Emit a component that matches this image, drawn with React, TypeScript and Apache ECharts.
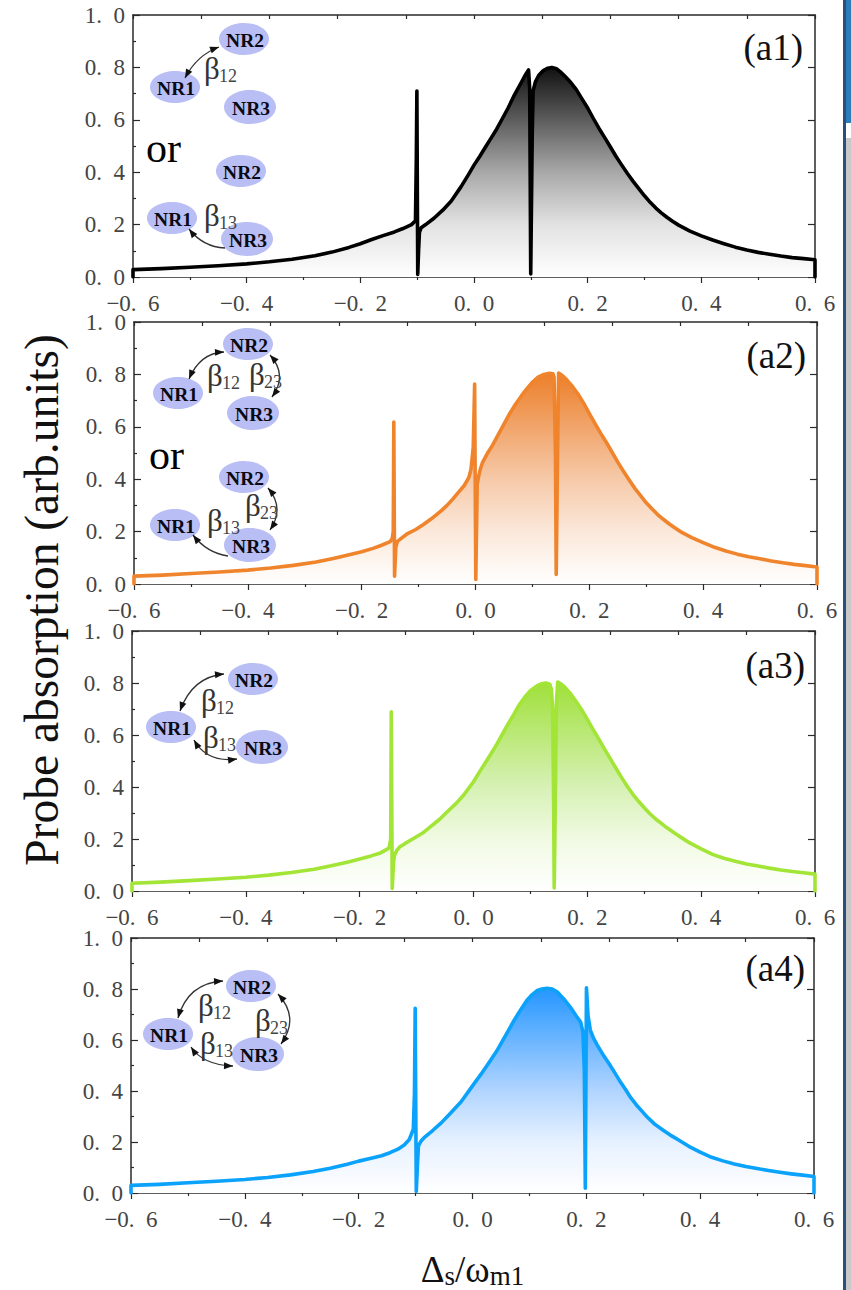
import React, { useEffect, useRef } from "react";
import * as echarts from "echarts";

const panelA1 = [[-0.6,0],[-0.6,0.028],[-0.55,0.032],[-0.5,0.037],[-0.45,0.043],[-0.4,0.05],[-0.36,0.058],[-0.32,0.068],[-0.28,0.081],[-0.25,0.095],[-0.22,0.113],[-0.2,0.127],[-0.18,0.143],[-0.16,0.158],[-0.14,0.172],[-0.125,0.185],[-0.11,0.2],[-0.103,0.215],[-0.1015,0.45],[-0.1005,0.71],[-0.0998,0.71],[-0.099,0.01],[-0.0975,0.1],[-0.096,0.17],[-0.093,0.188],[-0.085,0.2],[-0.07,0.225],[-0.055,0.255],[-0.04,0.29],[-0.023,0.344],[-0.01,0.39],[0,0.427],[0.01,0.46],[0.02,0.495],[0.03,0.53],[0.04,0.565],[0.05,0.605],[0.06,0.645],[0.07,0.69],[0.08,0.73],[0.09,0.77],[0.096,0.79],[0.098,0.72],[0.0998,0.012],[0.1005,0.012],[0.1025,0.55],[0.104,0.71],[0.108,0.745],[0.114,0.77],[0.122,0.788],[0.13,0.797],[0.137,0.8],[0.145,0.795],[0.152,0.783],[0.16,0.766],[0.17,0.743],[0.18,0.715],[0.19,0.68],[0.2,0.645],[0.21,0.605],[0.22,0.567],[0.23,0.532],[0.24,0.496],[0.25,0.46],[0.26,0.427],[0.27,0.395],[0.28,0.365],[0.29,0.337],[0.3,0.31],[0.31,0.285],[0.32,0.263],[0.33,0.244],[0.34,0.227],[0.35,0.212],[0.36,0.198],[0.38,0.175],[0.4,0.157],[0.42,0.141],[0.44,0.127],[0.46,0.114],[0.48,0.103],[0.5,0.094],[0.52,0.087],[0.54,0.08],[0.56,0.074],[0.58,0.07],[0.6,0.066],[0.6,0]];
const panelA2 = [[-0.6,0],[-0.6,0.03],[-0.55,0.034],[-0.5,0.04],[-0.45,0.046],[-0.4,0.053],[-0.36,0.061],[-0.32,0.071],[-0.28,0.084],[-0.25,0.097],[-0.22,0.113],[-0.2,0.123],[-0.18,0.136],[-0.165,0.148],[-0.15,0.162],[-0.1465,0.172],[-0.1445,0.2],[-0.1435,0.618],[-0.1428,0.618],[-0.1422,0.03],[-0.1412,0.03],[-0.14,0.14],[-0.137,0.163],[-0.13,0.175],[-0.121,0.19],[-0.105,0.208],[-0.092,0.226],[-0.08,0.245],[-0.07,0.262],[-0.06,0.28],[-0.05,0.3],[-0.04,0.324],[-0.03,0.35],[-0.02,0.375],[-0.012,0.405],[-0.008,0.436],[-0.004,0.52],[-0.0015,0.763],[-0.0005,0.763],[0.0005,0.017],[0.0015,0.017],[0.003,0.38],[0.005,0.405],[0.008,0.435],[0.012,0.462],[0.02,0.495],[0.03,0.53],[0.04,0.57],[0.05,0.61],[0.06,0.65],[0.07,0.685],[0.08,0.716],[0.09,0.745],[0.1,0.77],[0.11,0.79],[0.12,0.8],[0.13,0.804],[0.136,0.802],[0.138,0.79],[0.1405,0.5],[0.1418,0.036],[0.1428,0.036],[0.1442,0.5],[0.146,0.805],[0.152,0.797],[0.16,0.78],[0.17,0.755],[0.18,0.725],[0.19,0.69],[0.2,0.65],[0.21,0.612],[0.22,0.575],[0.23,0.54],[0.24,0.503],[0.25,0.465],[0.26,0.43],[0.27,0.397],[0.28,0.365],[0.29,0.337],[0.3,0.31],[0.31,0.287],[0.32,0.265],[0.33,0.247],[0.34,0.23],[0.35,0.215],[0.36,0.2],[0.38,0.177],[0.4,0.158],[0.42,0.14],[0.44,0.126],[0.46,0.114],[0.48,0.104],[0.5,0.096],[0.52,0.088],[0.54,0.081],[0.56,0.075],[0.58,0.07],[0.6,0.065],[0.6,0]];
const panelA3 = [[-0.6,0],[-0.6,0.03],[-0.55,0.034],[-0.5,0.04],[-0.45,0.046],[-0.4,0.053],[-0.36,0.061],[-0.32,0.071],[-0.28,0.084],[-0.25,0.097],[-0.22,0.112],[-0.2,0.123],[-0.18,0.135],[-0.165,0.145],[-0.15,0.163],[-0.148,0.169],[-0.1455,0.2],[-0.1445,0.689],[-0.1437,0.689],[-0.1428,0.01],[-0.1418,0.01],[-0.1405,0.11],[-0.139,0.137],[-0.135,0.155],[-0.13,0.169],[-0.12,0.183],[-0.107,0.2],[-0.09,0.222],[-0.077,0.245],[-0.06,0.275],[-0.047,0.303],[-0.03,0.338],[-0.018,0.367],[0,0.42],[0.012,0.463],[0.02,0.49],[0.03,0.525],[0.041,0.565],[0.05,0.6],[0.06,0.64],[0.071,0.68],[0.08,0.715],[0.09,0.745],[0.1,0.77],[0.112,0.79],[0.12,0.797],[0.127,0.8],[0.134,0.795],[0.137,0.775],[0.139,0.7],[0.1408,0.35],[0.1418,0.012],[0.1426,0.012],[0.1438,0.35],[0.1455,0.72],[0.148,0.804],[0.153,0.797],[0.16,0.785],[0.17,0.76],[0.18,0.73],[0.19,0.697],[0.2,0.66],[0.21,0.622],[0.22,0.585],[0.23,0.547],[0.24,0.51],[0.25,0.473],[0.26,0.437],[0.27,0.403],[0.28,0.372],[0.29,0.345],[0.3,0.32],[0.31,0.297],[0.32,0.277],[0.33,0.26],[0.34,0.243],[0.35,0.228],[0.36,0.213],[0.38,0.185],[0.4,0.162],[0.42,0.141],[0.44,0.126],[0.46,0.114],[0.48,0.104],[0.5,0.096],[0.52,0.088],[0.54,0.081],[0.56,0.075],[0.58,0.07],[0.6,0.065],[0.6,0]];
const panelA4 = [[-0.6,0],[-0.6,0.03],[-0.55,0.034],[-0.5,0.04],[-0.45,0.046],[-0.4,0.053],[-0.36,0.061],[-0.32,0.071],[-0.28,0.084],[-0.25,0.097],[-0.22,0.113],[-0.2,0.125],[-0.18,0.135],[-0.16,0.146],[-0.145,0.158],[-0.131,0.172],[-0.12,0.188],[-0.111,0.21],[-0.104,0.25],[-0.102,0.39],[-0.1007,0.724],[-0.0998,0.724],[-0.0988,0.006],[-0.0978,0.006],[-0.0965,0.12],[-0.095,0.185],[-0.09,0.205],[-0.085,0.217],[-0.07,0.245],[-0.055,0.275],[-0.04,0.31],[-0.02,0.358],[0,0.42],[0.015,0.466],[0.03,0.515],[0.044,0.562],[0.06,0.625],[0.073,0.677],[0.085,0.72],[0.096,0.757],[0.105,0.778],[0.114,0.794],[0.122,0.8],[0.131,0.803],[0.14,0.8],[0.149,0.788],[0.16,0.762],[0.172,0.728],[0.182,0.695],[0.19,0.67],[0.194,0.632],[0.1965,0.479],[0.1982,0.019],[0.1992,0.019],[0.2002,0.805],[0.2012,0.805],[0.203,0.696],[0.207,0.639],[0.213,0.605],[0.219,0.581],[0.23,0.54],[0.24,0.507],[0.248,0.479],[0.26,0.435],[0.27,0.402],[0.277,0.377],[0.29,0.34],[0.3,0.315],[0.306,0.3],[0.32,0.27],[0.335,0.246],[0.35,0.224],[0.365,0.204],[0.38,0.183],[0.4,0.16],[0.42,0.14],[0.44,0.126],[0.46,0.114],[0.48,0.104],[0.5,0.096],[0.52,0.088],[0.54,0.081],[0.56,0.075],[0.58,0.07],[0.6,0.065],[0.6,0]];

const panelData = [panelA1, panelA2, panelA3, panelA4];
const panelNames = ["(a1)", "(a2)", "(a3)", "(a4)"];
const lineColors = ["#000000", "#f0842c", "#a2e536", "#0ba2fb"];
const topColors = ["#111111", "#ec7f2a", "#9fe03a", "#2496ff"];
const midColors = ["#a8a8a8", "#f6c9a8", "#d6f1b4", "#b0d4ff"];
const lowColors = ["#e2e2e2", "#fbe8da", "#f0fae2", "#e6f1ff"];
const grids = [
  { left: 133, top: 15, width: 682, height: 262 },
  { left: 134, top: 322, width: 683, height: 262 },
  { left: 132, top: 631, width: 683, height: 260 },
  { left: 131, top: 938, width: 683, height: 260 },
];
const panelLabelPos = [[803, 47], [806, 355], [805, 665], [805, 968]];
const SERIF = "'Liberation Serif', serif";
const AXIS = "#2a2a2a";
const LABEL = "#444444";

const fmt = (v: number) => {
  const r = Math.abs(v) < 1e-9 ? 0 : v;
  return (r < 0 ? "\u2212" : "") + Math.abs(r).toFixed(1).replace(".", ".\u00a0\u00a0");
};

const text = (t: string, x: number, y: number, size: number, extra: any = {}) => ({
  type: "text", x, y, z: 12, silent: true,
  style: { text: t, fontSize: size, fontFamily: SERIF, fill: "#111", textAlign: "left", textVerticalAlign: "middle", ...extra },
});
const nr = (t: string, cx: number, cy: number) => [
  { type: "ellipse", z: 10, silent: true, shape: { cx, cy, rx: t === "NR3" ? 26 : 25, ry: t === "NR3" ? 17 : 16 }, style: { fill: "#b9bef5" } },
  text(t, cx + 1, cy + 1, 19.5, { fontWeight: "bold", textAlign: "center", fill: "#0a0a14" }),
];
const beta = (x: number, y: number, sub: string) => [
  text("\u03b2", x, y, 31, { fill: "#333" }),
  text(sub, x + 15, y + 8, 18, { fill: "#444" }),
];
const head = (x: number, y: number, fx: number, fy: number) => {
  const a = Math.atan2(y - fy, x - fx);
  const L = 9, W = 3.5;
  const bx = x - L * Math.cos(a), by = y - L * Math.sin(a);
  const nx = -Math.sin(a) * W, ny = Math.cos(a) * W;
  return {
    type: "polygon", z: 11, silent: true,
    shape: { points: [[x, y], [bx + nx, by + ny], [bx - nx, by - ny]] },
    style: { fill: "#111" },
  };
};
const arc = (x1: number, y1: number, x2: number, y2: number, cx: number, cy: number, both = true) => {
  const out: any[] = [
    { type: "bezierCurve", z: 11, silent: true, shape: { x1, y1, x2, y2, cpx1: cx, cpy1: cy }, style: { stroke: "#333", lineWidth: 1.3, fill: "none" } },
    head(x2, y2, cx, cy),
  ];
  if (both) out.push(head(x1, y1, cx, cy));
  return out;
};

const insetGraphics: any[] = [
  // panel a1
  ...arc(219, 47, 185, 78, 197, 55), ...nr("NR2", 244, 39), ...nr("NR1", 175, 87), ...nr("NR3", 250, 107),
  ...beta(204, 68, "12"), text("or", 146, 148, 42, { fill: "#000" }),
  ...arc(225, 248, 189, 229, 203, 247, false), ...nr("NR2", 241, 171), ...nr("NR1", 172, 218),
  ...beta(204, 215, "13"), ...nr("NR3", 247, 239),
  // panel a2
  ...arc(224, 352, 189, 379, 200, 353), ...arc(270, 355, 272, 397, 288, 375),
  ...nr("NR2", 248, 344), ...nr("NR1", 178, 393), ...nr("NR3", 253, 413),
  ...beta(207, 375, "12"), ...beta(249, 374, "23"), text("or", 149, 455, 42, { fill: "#000" }),
  ...arc(268, 488, 270, 530, 285, 508), ...arc(228, 556, 193, 535, 207, 553, false),
  ...nr("NR2", 244, 477), ...nr("NR1", 175, 525), ...beta(207, 520, "13"), ...nr("NR3", 250, 545), ...beta(245, 505, "23"),
  // panel a3
  ...arc(224, 674, 180, 711, 192, 677), ...arc(194, 740, 237, 759, 207, 763),
  ...nr("NR2", 253, 679), ...nr("NR1", 171, 727), ...nr("NR3", 262, 747),
  ...beta(201, 700, "12"), ...beta(203, 737, "13"),
  // panel a4
  ...arc(223, 981, 178, 1018, 188, 983), ...arc(191, 1047, 233, 1066, 203, 1065), ...arc(278, 994, 281, 1044, 300, 1018),
  ...nr("NR2", 251, 986), ...nr("NR1", 168, 1034), ...nr("NR3", 258, 1054),
  ...beta(198, 1005, "12"), ...beta(200, 1043, "13"), ...beta(255, 1020, "23"),
];

const frameGraphics: any[] = [
  { type: "rect", silent: true, shape: { x: 843, y: 0, width: 3, height: 1290 }, style: { fill: "#2a4f7c" } },
  { type: "rect", silent: true, shape: { x: 846, y: 0, width: 5, height: 123 }, style: { fill: "#2a7db8" } },
  { type: "rect", silent: true, shape: { x: 846, y: 138, width: 5, height: 1152 }, style: { fill: "#c8c8c8" } },
  {
    type: "text", x: 42, y: 600, rotation: Math.PI / 2, silent: true,
    style: { text: "Probe absorption (arb.units)", fontSize: 47.5, fontFamily: SERIF, fill: "#111", textAlign: "center", textVerticalAlign: "middle" },
  },
  ...panelNames.map((n, i) => text(n, panelLabelPos[i][0], panelLabelPos[i][1], 37, { textAlign: "right" })),
];

export default function App() {
  const ref = useRef<HTMLDivElement>(null);
  useEffect(() => {
    const chart = echarts.init(ref.current!, null, { renderer: "svg" });
    const line = { show: true, onZero: false, lineStyle: { color: AXIS, width: 1.5 } };
    const xAxis: any[] = [];
    const yAxis: any[] = [];
    grids.forEach((_, i) => {
      xAxis.push({
        type: "value", gridIndex: i, position: "bottom", min: -0.6, max: 0.6, interval: 0.2,
        axisLine: line, splitLine: { show: false },
        axisTick: { show: true, length: 6, inside: false, lineStyle: { color: AXIS, width: 1.2 } },
        minorTick: { show: true, splitNumber: 2, length: 3, lineStyle: { color: AXIS, width: 1.2 } },
        axisLabel: { formatter: fmt, fontFamily: SERIF, fontSize: 23, color: LABEL, margin: 15, hideOverlap: false, showMinLabel: true, showMaxLabel: true },
        ...(i === 3 ? {
          name: "{a|\u0394}{s|s}{a|/\u03c9}{s|m1}",
          nameLocation: "middle", nameGap: 56,
          nameTextStyle: {
            rich: {
              a: { fontFamily: SERIF, fontSize: 37, color: "#111", lineHeight: 40 },
              s: { fontFamily: SERIF, fontSize: 27, color: "#111", lineHeight: 40, verticalAlign: "bottom", padding: [20, 0, 0, 0] },
            },
          },
        } : {}),
      });
      xAxis.push({
        type: "value", gridIndex: i, position: "top", min: -0.6, max: 0.6, interval: 0.12,
        axisLine: line, splitLine: { show: false }, axisLabel: { show: false },
        axisTick: { show: true, inside: true, length: 4, lineStyle: { color: AXIS, width: 1.2 } },
      });
      yAxis.push({
        type: "value", gridIndex: i, position: "left", min: 0, max: 1, interval: 0.2,
        axisLine: line, splitLine: { show: false },
        axisTick: { show: true, inside: true, length: 7, lineStyle: { color: AXIS, width: 1.2 } },
        minorTick: { show: true, splitNumber: 2, length: 3, lineStyle: { color: AXIS, width: 1.2 } },
        axisLabel: { formatter: fmt, fontFamily: SERIF, fontSize: 23, color: LABEL, margin: 8, showMinLabel: true, showMaxLabel: true },
      });
      yAxis.push({
        type: "value", gridIndex: i, position: "right", min: 0, max: 1, interval: 0.2,
        axisLine: line, splitLine: { show: false }, axisLabel: { show: false },
        axisTick: { show: true, inside: true, length: 7, lineStyle: { color: AXIS, width: 1.2 } },
      });
    });
    chart.setOption({
      animation: false,
      backgroundColor: "#ffffff",
      grid: grids,
      xAxis,
      yAxis,
      series: panelData.map((data, i) => ({
        type: "line",
        name: panelNames[i],
        xAxisIndex: i * 2,
        yAxisIndex: i * 2,
        data,
        showSymbol: false,
        smooth: false,
        lineStyle: { color: lineColors[i], width: 3.6, join: "round", cap: "round" },
        itemStyle: { color: lineColors[i] },
        areaStyle: {
          origin: "start",
          opacity: 1,
          color: new echarts.graphic.LinearGradient(0, 0, 0, 1, [
            { offset: 0, color: topColors[i] },
            { offset: 0.5, color: midColors[i] },
            { offset: 0.75, color: lowColors[i] },
            { offset: 1, color: "#ffffff" },
          ]),
        },
      })),
      graphic: { elements: [...frameGraphics, ...insetGraphics] },
    });
    return () => chart.dispose();
  }, []);
  return <div ref={ref} style={{ position: "absolute", left: 0, top: 0, width: 851, height: 1290 }} />;
}
